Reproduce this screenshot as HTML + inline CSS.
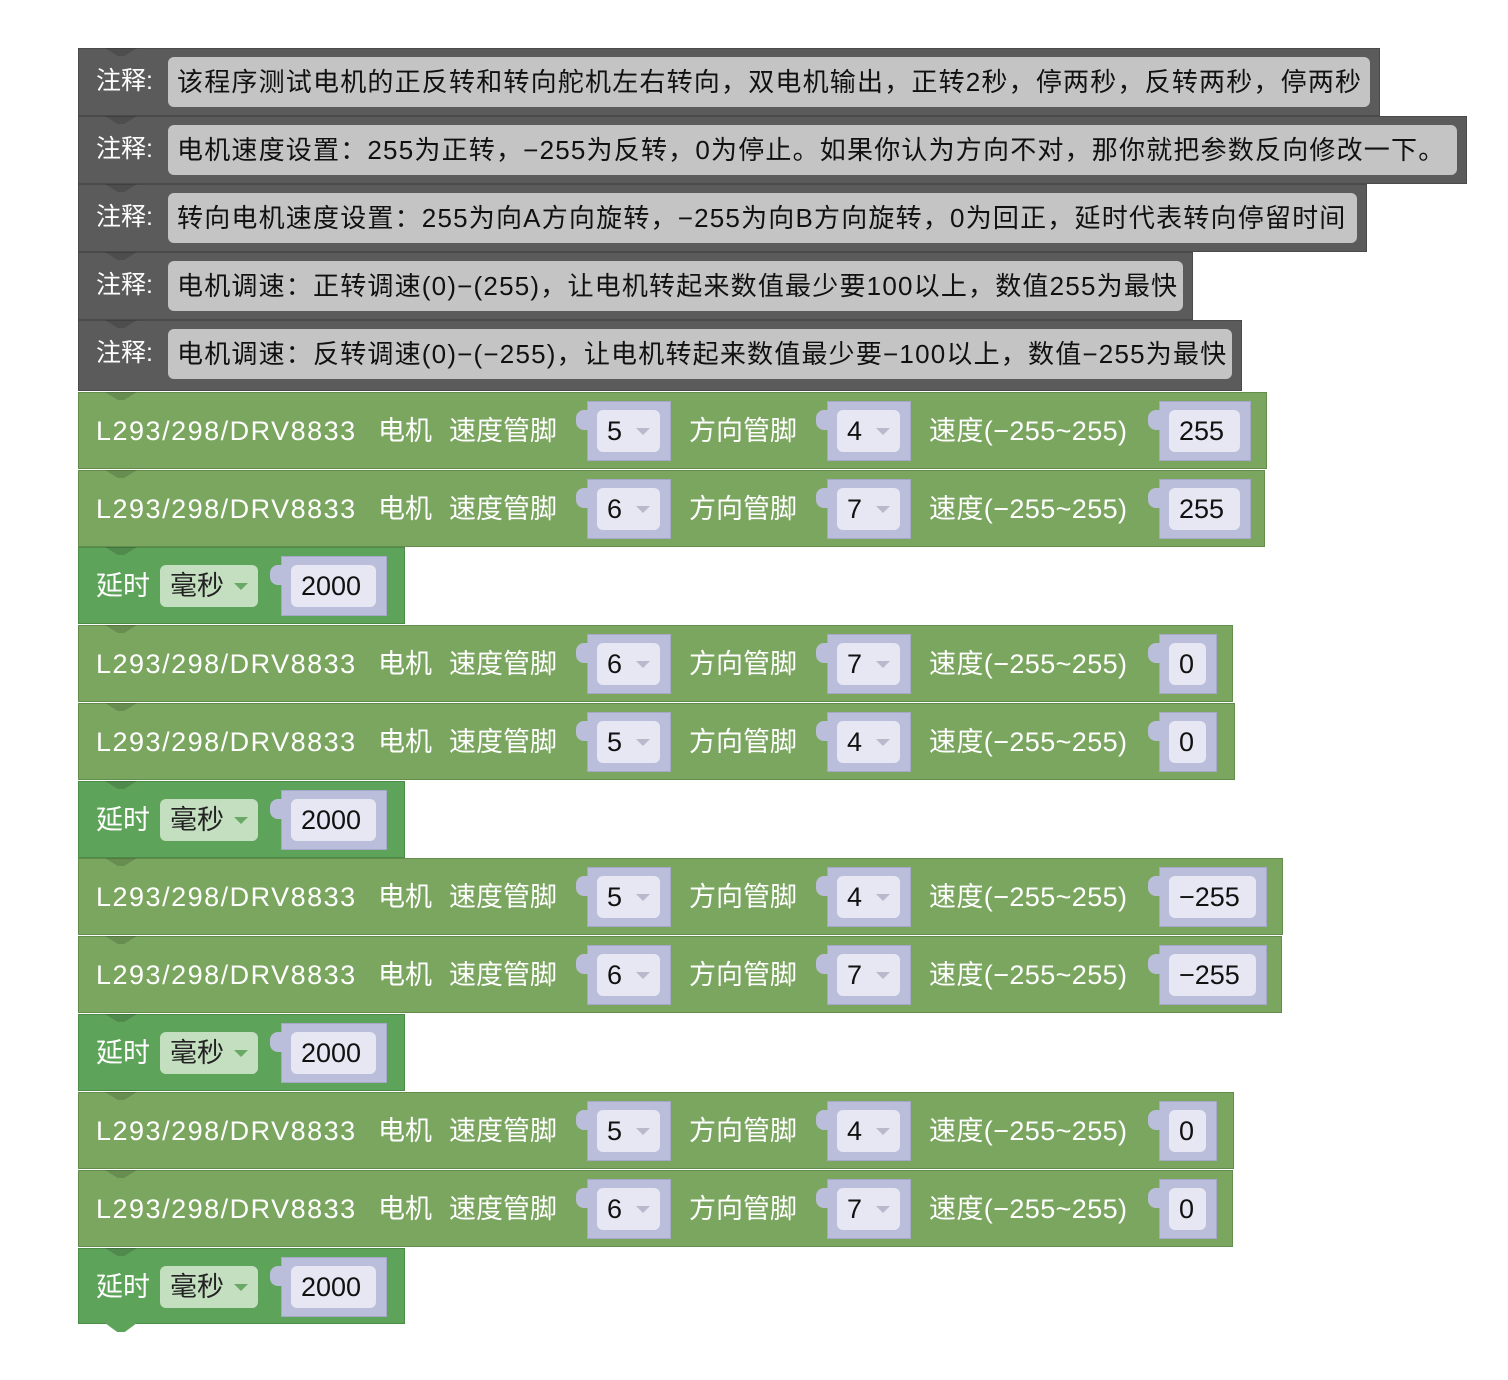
<!DOCTYPE html>
<html><head><meta charset="utf-8"><style>
body{margin:0;width:1508px;height:1380px;background:#fff;position:relative;overflow:hidden;font-family:"Liberation Sans","Noto Sans CJK SC",sans-serif}
.b{position:absolute;left:78px;box-sizing:border-box}
.c{background:#5b5b5b;border:1px solid #4a4a4a;height:68px}
.c .l{position:absolute;left:17px;top:12px;color:#fff;font-size:25px}
.c .f{position:absolute;left:89px;right:9px;top:8px;height:50px;background:#c4c4c4;border-radius:6px;color:#111;font-size:26px;line-height:50px;padding-left:9px;white-space:nowrap;box-sizing:border-box;letter-spacing:1.2px}
.m{background:#7ba65f;border:1px solid #648c4c;height:77px}
.d{background:#5ea35a;border:1px solid #4c8a48;height:77px;width:327px}
.t{position:absolute;top:18px;color:#fff;font-size:27px;white-space:nowrap;line-height:40px}
.ls{letter-spacing:1.5px}
.sp{letter-spacing:0.4px}
.s{position:absolute;top:8px;height:60px;background:#bbbedb;border:1px solid #a5a8c8;box-sizing:border-box}
.s:before{content:"";position:absolute;left:-12px;top:8px;width:13px;height:20px;background:#bbbedb;border-radius:8px 0 0 8px}
.fl{position:absolute;left:9px;right:10px;top:8px;height:42px;background:#e6e7f2;border-radius:6px;color:#111;font-size:27px;line-height:42px;padding-left:10px;box-sizing:border-box}
.ar{position:absolute;right:10px;top:18px;width:0;height:0;border-left:7px solid transparent;border-right:7px solid transparent;border-top:7px solid #b8bacb}
.dd{position:absolute;left:81px;top:17px;width:98px;height:42px;background:#c4dfc0;border-radius:6px;font-size:27px;line-height:42px;padding-left:10px;box-sizing:border-box;color:#222}
.dd .ar{border-top-color:#6aa866;right:10px}
.n{position:absolute;left:26px;top:-1px;width:32px;height:8px;background:rgba(0,0,0,.15);clip-path:polygon(0 0,100% 0,60% 100%,40% 100%)}
.tab{position:absolute;left:105px;width:32px;height:9px;clip-path:polygon(0 0,100% 0,62% 100%,38% 100%)}
</style></head><body>

<div class="b c" style="top:48px;width:1302px"><div class="n"></div><span class="l">注释:</span><div class="f">该程序测试电机的正反转和转向舵机左右转向，双电机输出，正转2秒，停两秒，反转两秒，停两秒</div></div>
<div class="b c" style="top:116px;width:1389px"><div class="n"></div><span class="l">注释:</span><div class="f">电机速度设置：255为正转，−255为反转，0为停止。如果你认为方向不对，那你就把参数反向修改一下。</div></div>
<div class="b c" style="top:184px;width:1289px"><div class="n"></div><span class="l">注释:</span><div class="f">转向电机速度设置：255为向A方向旋转，−255为向B方向旋转，0为回正，延时代表转向停留时间</div></div>
<div class="b c" style="top:252px;width:1115px"><div class="n"></div><span class="l">注释:</span><div class="f">电机调速：正转调速(0)−(255)，让电机转起来数值最少要100以上，数值255为最快</div></div>
<div class="b c" style="top:320px;width:1164px;height:71px"><div class="n"></div><span class="l">注释:</span><div class="f">电机调速：反转调速(0)−(−255)，让电机转起来数值最少要−100以上，数值−255为最快</div></div>

<div class="b m" style="top:392px;width:1189px"><div class="n"></div><span class="t ls" style="left:17px">L293/298/DRV8833</span><span class="t" style="left:299px">电机</span><span class="t" style="left:370px">速度管脚</span><div class="s" style="left:508px;width:84px"><div class="fl">5<span class="ar"></span></div></div><span class="t" style="left:610px">方向管脚</span><div class="s" style="left:748px;width:84px"><div class="fl">4<span class="ar"></span></div></div><span class="t sp" style="left:850px">速度(−255~255)</span><div class="s" style="left:1080px;width:92px"><div class="fl">255</div></div></div>
<div class="b m" style="top:470px;width:1187px"><div class="n"></div><span class="t ls" style="left:17px">L293/298/DRV8833</span><span class="t" style="left:299px">电机</span><span class="t" style="left:370px">速度管脚</span><div class="s" style="left:508px;width:84px"><div class="fl">6<span class="ar"></span></div></div><span class="t" style="left:610px">方向管脚</span><div class="s" style="left:748px;width:84px"><div class="fl">7<span class="ar"></span></div></div><span class="t sp" style="left:850px">速度(−255~255)</span><div class="s" style="left:1080px;width:92px"><div class="fl">255</div></div></div>
<div class="b d" style="top:547px"><div class="n"></div><span class="t" style="left:17px">延时</span><div class="dd">毫秒<span class="ar"></span></div><div class="s" style="left:202px;width:106px"><div class="fl">2000</div></div></div>

<div class="b m" style="top:625px;width:1155px"><div class="n"></div><span class="t ls" style="left:17px">L293/298/DRV8833</span><span class="t" style="left:299px">电机</span><span class="t" style="left:370px">速度管脚</span><div class="s" style="left:508px;width:84px"><div class="fl">6<span class="ar"></span></div></div><span class="t" style="left:610px">方向管脚</span><div class="s" style="left:748px;width:84px"><div class="fl">7<span class="ar"></span></div></div><span class="t sp" style="left:850px">速度(−255~255)</span><div class="s" style="left:1080px;width:58px"><div class="fl">0</div></div></div>
<div class="b m" style="top:703px;width:1157px"><div class="n"></div><span class="t ls" style="left:17px">L293/298/DRV8833</span><span class="t" style="left:299px">电机</span><span class="t" style="left:370px">速度管脚</span><div class="s" style="left:508px;width:84px"><div class="fl">5<span class="ar"></span></div></div><span class="t" style="left:610px">方向管脚</span><div class="s" style="left:748px;width:84px"><div class="fl">4<span class="ar"></span></div></div><span class="t sp" style="left:850px">速度(−255~255)</span><div class="s" style="left:1080px;width:58px"><div class="fl">0</div></div></div>
<div class="b d" style="top:781px"><div class="n"></div><span class="t" style="left:17px">延时</span><div class="dd">毫秒<span class="ar"></span></div><div class="s" style="left:202px;width:106px"><div class="fl">2000</div></div></div>

<div class="b m" style="top:858px;width:1205px"><div class="n"></div><span class="t ls" style="left:17px">L293/298/DRV8833</span><span class="t" style="left:299px">电机</span><span class="t" style="left:370px">速度管脚</span><div class="s" style="left:508px;width:84px"><div class="fl">5<span class="ar"></span></div></div><span class="t" style="left:610px">方向管脚</span><div class="s" style="left:748px;width:84px"><div class="fl">4<span class="ar"></span></div></div><span class="t sp" style="left:850px">速度(−255~255)</span><div class="s" style="left:1080px;width:108px"><div class="fl">−255</div></div></div>
<div class="b m" style="top:936px;width:1204px"><div class="n"></div><span class="t ls" style="left:17px">L293/298/DRV8833</span><span class="t" style="left:299px">电机</span><span class="t" style="left:370px">速度管脚</span><div class="s" style="left:508px;width:84px"><div class="fl">6<span class="ar"></span></div></div><span class="t" style="left:610px">方向管脚</span><div class="s" style="left:748px;width:84px"><div class="fl">7<span class="ar"></span></div></div><span class="t sp" style="left:850px">速度(−255~255)</span><div class="s" style="left:1080px;width:108px"><div class="fl">−255</div></div></div>
<div class="b d" style="top:1014px"><div class="n"></div><span class="t" style="left:17px">延时</span><div class="dd">毫秒<span class="ar"></span></div><div class="s" style="left:202px;width:106px"><div class="fl">2000</div></div></div>

<div class="b m" style="top:1092px;width:1156px"><div class="n"></div><span class="t ls" style="left:17px">L293/298/DRV8833</span><span class="t" style="left:299px">电机</span><span class="t" style="left:370px">速度管脚</span><div class="s" style="left:508px;width:84px"><div class="fl">5<span class="ar"></span></div></div><span class="t" style="left:610px">方向管脚</span><div class="s" style="left:748px;width:84px"><div class="fl">4<span class="ar"></span></div></div><span class="t sp" style="left:850px">速度(−255~255)</span><div class="s" style="left:1080px;width:58px"><div class="fl">0</div></div></div>
<div class="b m" style="top:1170px;width:1155px"><div class="n"></div><span class="t ls" style="left:17px">L293/298/DRV8833</span><span class="t" style="left:299px">电机</span><span class="t" style="left:370px">速度管脚</span><div class="s" style="left:508px;width:84px"><div class="fl">6<span class="ar"></span></div></div><span class="t" style="left:610px">方向管脚</span><div class="s" style="left:748px;width:84px"><div class="fl">7<span class="ar"></span></div></div><span class="t sp" style="left:850px">速度(−255~255)</span><div class="s" style="left:1080px;width:58px"><div class="fl">0</div></div></div>
<div class="b d" style="top:1248px;height:76px"><div class="n"></div><span class="t" style="left:17px">延时</span><div class="dd">毫秒<span class="ar"></span></div><div class="s" style="left:202px;width:106px"><div class="fl">2000</div></div></div>
<div class="tab" style="top:1323px;background:#5ea35a"></div>
</body></html>
